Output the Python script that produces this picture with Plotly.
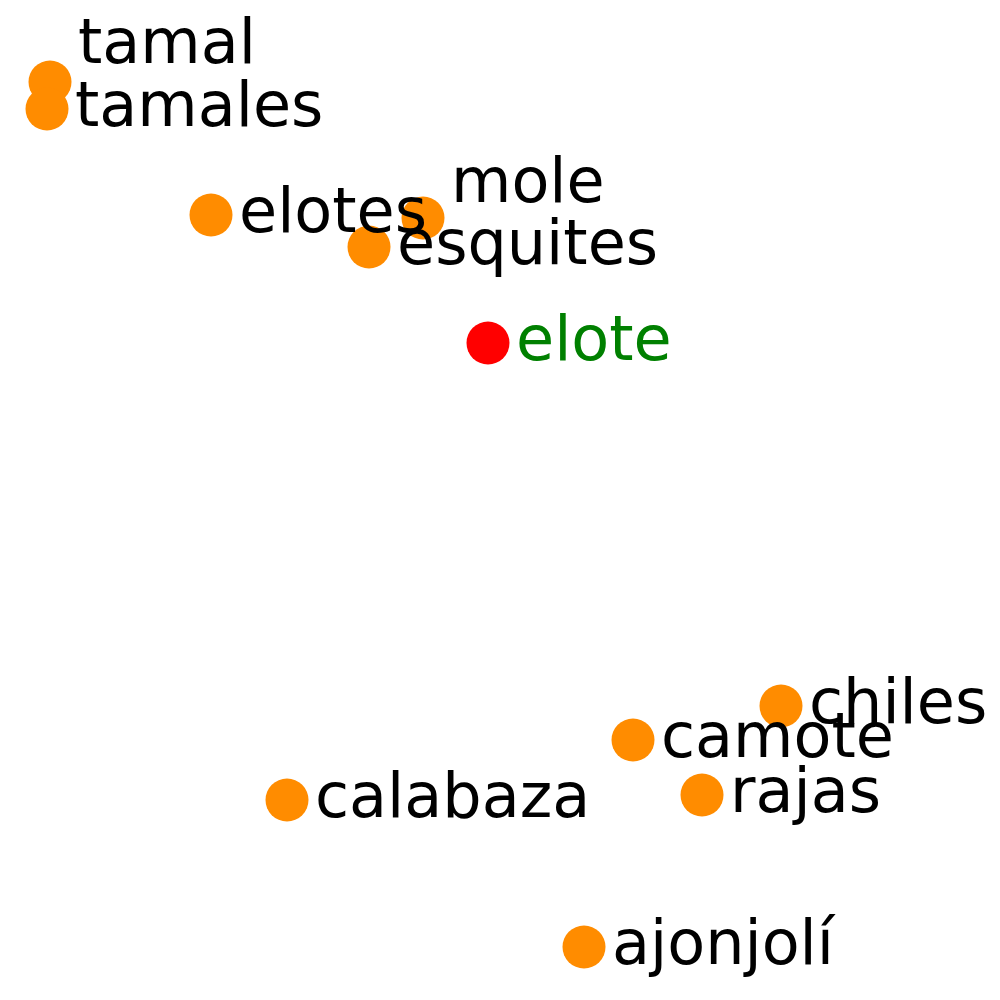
import plotly.graph_objects as go

# 2D embedding of words near "elote"
words = ["tamal", "tamales", "elotes", "mole", "esquites", "elote",
         "chiles", "camote", "rajas", "calabaza", "ajonjolí"]
x_vals = [-4.50, -4.53, -2.89, -0.77, -1.31, -0.12, 2.81, 1.33, 2.02, -2.13, 0.84]
y_vals = [4.18, 3.91, 2.85, 2.82, 2.53, 1.57, -2.06, -2.40, -2.95, -3.00, -4.47]
query = "elote"

# label nudges (px), like a text-repel pass would give
label_dy = {"tamal": 36, "mole": 33}

colors = ["red" if w == query else "darkorange" for w in words]

fig = go.Figure()
fig.add_trace(go.Scatter(x=x_vals, y=y_vals, mode="markers",
                         marker=dict(size=43, color=colors),
                         hoverinfo="text", text=words))

for w, xv, yv in zip(words, x_vals, y_vals):
    fig.add_annotation(x=xv, y=yv, text=w, showarrow=False,
                       xanchor="left", yanchor="middle",
                       xshift=26, yshift=label_dy.get(w, 0) + 5,
                       font=dict(family="DejaVu Sans", size=62,
                                 color="green" if w == query else "black"))

# page body adds an 8px margin, so the ranges are nudged to line up
fig.update_xaxes(range=[-4.92, 5.08], visible=False)
fig.update_yaxes(range=[-5.08, 4.92], visible=False)
fig.update_layout(width=1000, height=1000, showlegend=False,
                  margin=dict(l=0, r=0, t=0, b=0),
                  plot_bgcolor="white", paper_bgcolor="white")

fig.write_html("out.html")
